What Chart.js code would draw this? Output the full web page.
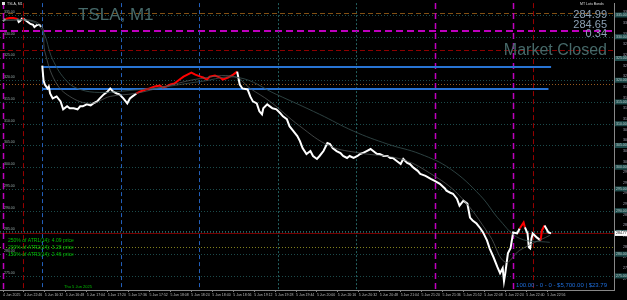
<!DOCTYPE html>
<html>
<head>
<meta charset="utf-8">
<script src="https://cdn.jsdelivr.net/npm/chart.js@4"></script>
<style>
html, body { margin: 0; padding: 0; background: #000; }
canvas { display: block; }
</style>
</head>
<body>
<canvas id="c" width="627" height="300"></canvas>
<script>
// bar index = minutes: 0 = 4 Jun 22:30, 30 = 5 Jun 16:30 (session open)
const prevBars  = [0, 2, 5, 8, 11, 12, 13, 15, 16, 17, 18, 21, 23, 24, 26, 28, 29];
const prevClose = [333.63, 334.09, 334.32, 334.32, 334.09, 333.40, 333.63, 334.32, 334.09, 333.86, 333.63, 332.95, 332.72, 332.26, 332.72, 332.72, 332.26];

const bars = [30, 31, 32, 34, 35, 36, 38, 41, 44, 46, 49, 51, 54, 57, 59, 61, 64, 67, 69, 72,
  74, 77, 80, 82, 84, 87, 89, 92, 95, 97, 99, 102, 105, 109, 112, 116, 120, 122, 125, 128,
  131, 135, 138, 141, 144, 147, 151, 153, 156, 158, 162, 166, 168, 172, 176, 179, 181, 183, 187, 189,
  191, 194, 196, 198, 199, 202, 204, 206, 209, 212, 214, 217, 219, 222, 225, 227, 229, 232, 235, 237,
  240, 242, 245, 248, 250, 252, 255, 258, 260, 263, 265, 268, 271, 273, 275, 278, 281, 283, 286, 288,
  291, 294, 296, 298, 301, 304, 306, 309, 311, 314, 317, 319, 323, 327, 330, 334, 338, 339, 342, 344,
  347, 349, 352, 355, 357, 359, 362, 365, 367, 370, 372, 375, 378, 380, 382, 383, 384, 385, 386, 388,
  389, 390, 393, 395, 398, 399, 401, 402, 403, 404, 405, 408, 411, 412, 414, 417, 419];
const closes = [323.36, 319.93, 319.02, 318.11, 318.56, 316.96, 315.82, 316.28, 315.14, 313.31,
  314.00, 313.54, 313.54, 313.31, 314.00, 314.00, 314.45, 314.22, 314.68, 315.14,
  315.82, 316.74, 317.42, 318.11, 317.42, 316.96, 316.74, 315.82, 314.68, 315.82,
  316.28, 316.96, 317.42, 317.88, 318.11, 318.56, 318.79, 318.33, 318.56, 319.02,
  319.25, 320.16, 320.84, 321.30, 321.76, 321.30, 320.84, 320.62, 320.16, 320.84,
  321.07, 320.62, 320.16, 320.62, 321.30, 321.99, 319.02, 318.11, 317.88, 316.28,
  315.14, 314.68, 312.85, 312.17, 313.54, 314.45, 314.00, 313.54, 313.31, 312.40,
  311.71, 311.03, 309.43, 308.29, 307.15, 306.00, 304.41, 303.04, 303.72, 302.58,
  301.89, 302.58, 303.72, 305.55, 305.32, 304.41, 303.72, 303.26, 302.58, 302.12,
  302.58, 302.12, 302.58, 303.04, 303.26, 303.72, 304.18, 303.72, 303.04, 303.04,
  302.58, 302.58, 302.12, 302.12, 301.44, 300.75, 301.89, 300.98, 300.75, 299.84,
  299.16, 298.47, 298.01, 297.33, 296.87, 296.19, 295.05, 294.59, 294.13, 293.90,
  292.76, 291.16, 292.31, 291.62, 288.42, 287.74, 287.05, 285.91, 285.00, 283.17,
  281.35, 279.29, 277.01, 275.64, 276.78, 273.81, 275.64, 277.92, 280.21, 281.35,
  283.17, 285.00, 284.77, 285.91, 287.28, 286.14, 284.77, 281.58, 281.35, 283.63,
  284.77, 283.86, 283.17, 285.46, 286.60, 285.00, 284.77];

// stretches drawn in red
const redRanges = [[2, 11], [15, 16], [102, 179], [395, 399], [411, 414]];

const maSlowBars = [0, 21, 30, 38, 49, 59, 74, 97, 120, 151, 180, 209, 242, 268, 294, 319, 342, 365, 380, 395, 418];
const maSlow = [333.86, 333.63, 331.58, 324.73, 319.70, 317.88, 317.19, 317.65, 318.33, 319.70, 320.62,
  316.74, 312.17, 308.29, 305.32, 303.04, 299.61, 293.45, 287.74, 283.63, 282.72];
const maFastBars = [0, 28, 32, 40, 51, 67, 82, 101, 124, 151, 177, 189, 204, 227, 250, 273, 304, 326, 349, 372, 384, 395, 418];
const maFast = [333.86, 332.95, 326.55, 319.70, 316.28, 314.68, 316.28, 316.96, 318.56, 320.39, 320.84,
  318.11, 315.14, 309.43, 304.86, 303.26, 301.89, 298.70, 293.45, 284.32, 278.15, 280.89, 284.32];

const tickBars = [0, 16, 32, 48, 64, 80, 96, 112, 128, 144, 160, 176, 192, 208, 224, 240, 256, 272, 288, 304, 320, 336, 352, 368, 384, 400, 416];
const tickLabels = ['4 Jun 2025', '4 Jun 22:46', '5 Jun 16:32', '5 Jun 16:48', '5 Jun 17:04', '5 Jun 17:20', '5 Jun 17:36',
  '5 Jun 17:52', '5 Jun 18:08', '5 Jun 18:24', '5 Jun 18:40', '5 Jun 18:56', '5 Jun 19:12', '5 Jun 19:28', '5 Jun 19:44',
  '5 Jun 20:00', '5 Jun 20:16', '5 Jun 20:32', '5 Jun 20:48', '5 Jun 21:04', '5 Jun 21:20', '5 Jun 21:36', '5 Jun 21:52',
  '5 Jun 22:08', '5 Jun 22:24', '5 Jun 22:40', '5 Jun 22:56'];

const priceTicks = [335.60, 333.15, 330.70, 328.25, 325.80, 323.35, 320.90, 318.45, 316.00, 313.55, 311.10, 308.65, 306.20,
  303.75, 301.30, 298.85, 296.40, 293.95, 291.50, 289.05, 286.60, 284.15, 281.70, 279.25, 276.80, 274.35];
const roundLevels = [335, 330, 325, 320, 315, 310, 305, 300, 295, 290, 285, 280, 275];

const prevDayLevels = [335.46, 331.35, 327.00, 319.02];
const openRange = [323.13, 317.88];
const lastPrice = 284.77;
const atrLevel = 281.58;
const sessionMarks = [0, 15, 30, 90, 150, 210, 270, 330, 390, 405];
const quote = ['284.99', '284.65', '0.34'];
const atrNotes = ['250% of ATR1(14): 4.09 price', '200% of ATR2(14): 3.28 price', '150% of ATR3(14): 2.46 price'];
const accountLine = '100.00 - 0 - 0 - $5,700.00 | $23.79';

const pricePoints = prevBars.map((b, i) => ({x: b, y: prevClose[i]}))
  .concat([{x: 29.5, y: null}], bars.map((b, i) => ({x: b, y: closes[i]})));

function isRed(a, b) {
  return redRanges.some(r => a >= r[0] && b <= r[1]);
}

const FONT = '"Liberation Sans", Arial, sans-serif';

function hline(ctx, y, x0, x1, color, width, dash) {
  ctx.beginPath();
  ctx.strokeStyle = color;
  ctx.lineWidth = width;
  ctx.setLineDash(dash);
  const yy = Math.round(y) + (width % 2 ? 0.5 : 0);
  ctx.moveTo(x0, yy);
  ctx.lineTo(x1, yy);
  ctx.stroke();
}
function vline(ctx, x, y0, y1, color, width, dash) {
  ctx.beginPath();
  ctx.strokeStyle = color;
  ctx.lineWidth = width;
  ctx.setLineDash(dash);
  const xx = Math.round(x) + (width % 2 ? 0.5 : 0);
  ctx.moveTo(xx, y0);
  ctx.lineTo(xx, y1);
  ctx.stroke();
}

const overlay = {
  id: 'overlay',
  beforeDatasetsDraw(chart) {
    const {ctx, chartArea: a, scales: {x, y}} = chart;
    ctx.save();
    // round number levels
    roundLevels.forEach(p => hline(ctx, y.getPixelForValue(p), a.left, a.right, 'rgb(28,75,75)', 1, [1, 2]));
    // previous day levels
    const prevStyles = [['rgb(130,80,20)', 1, [5, 3]], ['rgb(190,0,190)', 2, [7, 4]], ['rgb(140,0,0)', 1, [5, 3]], ['rgb(150,90,30)', 1, [1, 2]]];
    prevDayLevels.forEach((p, i) => hline(ctx, y.getPixelForValue(p), a.left, a.right, ...prevStyles[i]));
    hline(ctx, y.getPixelForValue(atrLevel), a.left, a.right, 'rgb(130,130,30)', 1, [1, 2]);
    hline(ctx, y.getPixelForValue(lastPrice) - 2, a.left, a.right, 'rgb(40,100,100)', 1, [1, 2]);
    hline(ctx, y.getPixelForValue(lastPrice), a.left, a.right, 'rgb(120,0,0)', 1, []);
    // session / hour marks
    const blue = ['rgb(35,95,185)', 1, [4, 3]];
    const teal = ['rgb(35,95,95)', 1, [2, 2]];
    const mag = ['rgb(190,0,190)', 1.5, [6, 4]];
    const dred = ['rgb(150,0,0)', 1, [5, 3]];
    const vStyles = {0: mag, 15: dred, 30: blue, 90: blue, 150: blue, 210: teal, 270: teal, 330: mag, 390: mag, 405: dred};
    sessionMarks.forEach(b => vline(ctx, x.getPixelForValue(b), a.top, a.bottom, ...vStyles[b]));
    // opening range
    hline(ctx, y.getPixelForValue(openRange[0]), x.getPixelForValue(30), x.getPixelForValue(419), 'rgb(40,115,210)', 2, []);
    hline(ctx, y.getPixelForValue(openRange[1]), x.getPixelForValue(30), x.getPixelForValue(417), 'rgb(40,115,210)', 2, []);
    ctx.setLineDash([]);
    // titles
    ctx.fillStyle = 'rgb(70,105,105)';
    ctx.font = '17px ' + FONT;
    ctx.textAlign = 'left';
    ctx.textBaseline = 'alphabetic';
    ctx.fillText('TSLA, M1', 78, 20);
    ctx.textAlign = 'right';
    ctx.font = '16px ' + FONT;
    ctx.fillText('Market Closed', 607, 55);
    ctx.fillStyle = 'rgb(140,160,180)';
    ctx.font = '11px ' + FONT;
    quote.forEach((t, i) => ctx.fillText(t, 607, 18 + i * 9.5));
    ctx.restore();
  },
  afterDraw(chart) {
    const {ctx, chartArea: a, scales: {x, y}} = chart;
    ctx.save();
    ctx.textBaseline = 'middle';
    // left level labels
    ctx.font = '3.5px ' + FONT;
    ctx.fillStyle = '#9aa';
    ctx.textAlign = 'left';
    roundLevels.forEach(p => ctx.fillText(p.toFixed(2), 4, y.getPixelForValue(p) - 3));
    // right axis tags
    roundLevels.forEach(p => {
      const yy = y.getPixelForValue(p);
      ctx.fillStyle = 'rgb(30,75,75)';
      ctx.fillRect(a.right + 1, yy - 2.5, 12, 5);
      ctx.fillStyle = '#bcc';
      ctx.fillText(p.toFixed(2), a.right + 2, yy);
    });
    const ly = y.getPixelForValue(lastPrice);
    ctx.fillStyle = '#fff';
    ctx.fillRect(a.right + 1, ly - 2.5, 12, 5);
    ctx.fillStyle = '#000';
    ctx.fillText(lastPrice.toFixed(2), a.right + 2, ly);
    // ATR notes
    ctx.font = '5px ' + FONT;
    ctx.fillStyle = 'rgb(0,190,0)';
    atrNotes.forEach((t, i) => ctx.fillText(t, 8, 241 + i * 7));
    ctx.font = '4px ' + FONT;
    ctx.textAlign = 'center';
    ctx.fillText('Thu 5 Jun 2025', 78, 287);
    // account line
    ctx.textAlign = 'right';
    ctx.font = '6px ' + FONT;
    ctx.fillStyle = 'rgb(30,110,220)';
    ctx.fillText(accountLine, 607, 285);
    // corner labels
    ctx.textAlign = 'left';
    ctx.font = '3.5px ' + FONT;
    ctx.fillStyle = '#ddd';
    ctx.fillRect(2, 2, 3, 3);
    ctx.fillText('TSLA, M1', 7, 4);
    ctx.fillText('MT Lotu Bonds', 580, 4);
    ctx.restore();
  }
};

new Chart(document.getElementById('c'), {
  type: 'line',
  data: {
    datasets: [
      {
        data: maSlowBars.map((b, i) => ({x: b, y: maSlow[i]})),
        borderColor: 'rgba(55,80,80,0.8)', borderWidth: 1, pointRadius: 0, tension: 0.4
      },
      {
        data: maFastBars.map((b, i) => ({x: b, y: maFast[i]})),
        borderColor: 'rgba(90,95,95,0.7)', borderWidth: 1, pointRadius: 0, tension: 0.4
      },
      {
        data: pricePoints,
        borderColor: '#fff', borderWidth: 2, pointRadius: 0, tension: 0, spanGaps: false,
        segment: {
          borderColor: c => isRed(c.p0.parsed.x, c.p1.parsed.x) ? 'rgb(255,0,0)' : '#fff'
        }
      }
    ]
  },
  options: {
    responsive: false,
    animation: false,
    devicePixelRatio: 1,
    layout: {padding: {top: 1, left: 0, right: 0, bottom: 0}},
    plugins: {legend: {display: false}, tooltip: {enabled: false}},
    scales: {
      x: {
        type: 'linear', min: -2.3, max: 467.1,
        grid: {display: true, drawOnChartArea: false, tickLength: 2, color: '#888'},
        border: {display: true, color: '#888'},
        ticks: {
          font: {size: 3.5, family: FONT}, color: '#bbb', align: 'start', maxRotation: 0, autoSkip: false, padding: 1,
          callback: v => tickLabels[tickBars.indexOf(v)] || ''
        },
        afterBuildTicks: s => { s.ticks = tickBars.map(v => ({value: v})); },
        afterFit: s => { s.height = 10; }
      },
      y: {
        position: 'right', min: 271.76, max: 337.74,
        grid: {display: false},
        border: {display: true, color: '#888'},
        ticks: {font: {size: 3.5, family: FONT}, color: '#aab', padding: 1, callback: v => v.toFixed(2)},
        afterBuildTicks: s => { s.ticks = priceTicks.map(v => ({value: v})); },
        afterFit: s => { s.width = 13; }
      }
    }
  },
  plugins: [overlay]
});
</script>
</body>
</html>
